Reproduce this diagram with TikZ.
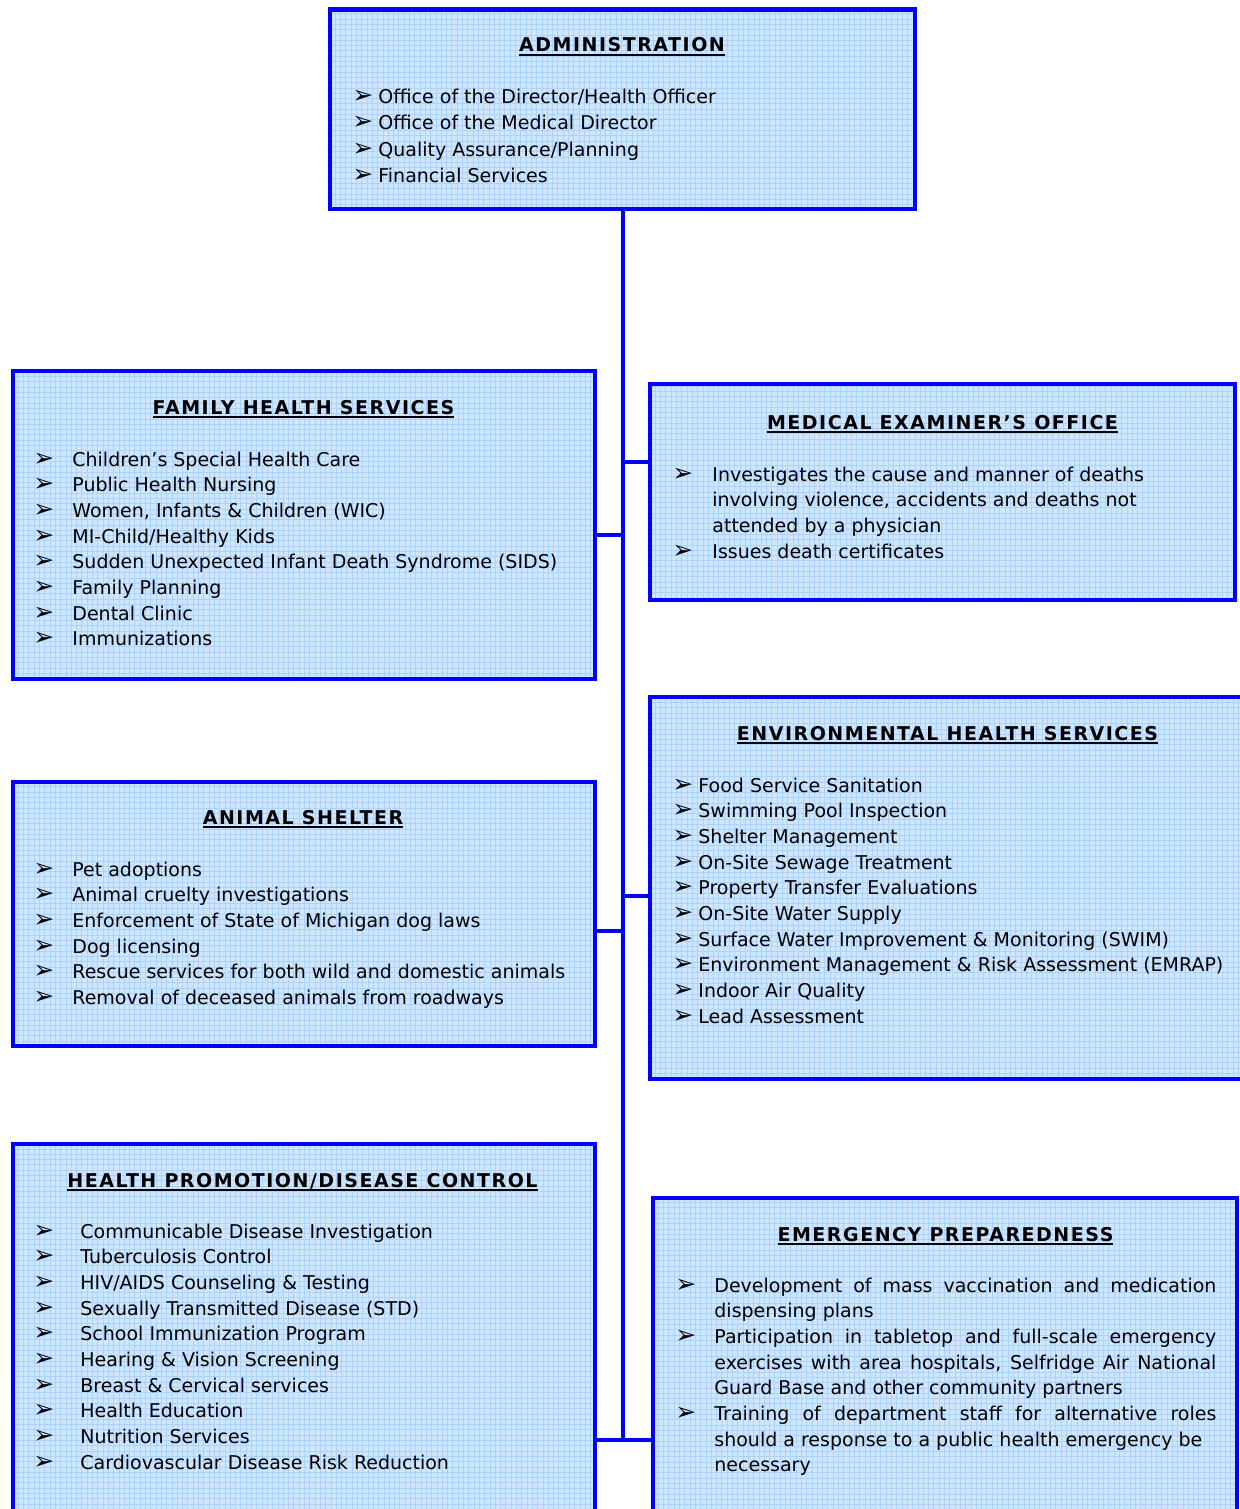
\documentclass[tikz,border=0pt]{standalone}
\usepackage{fontspec}
\setmainfont{DejaVu Sans}
\usetikzlibrary{fit}
\definecolor{boxblue}{RGB}{0,0,255}
\definecolor{gridfill}{RGB}{206,230,255}
\definecolor{gridcol}{RGB}{172,210,255}
\newcommand\itemfont{\fontsize{9.5}{12}\selectfont}
\newcommand\bulfont{\fontsize{12.5}{12}\selectfont}
\newcommand\headfont{\fontsize{9.5}{12}\selectfont\bfseries\addfontfeatures{LetterSpace=8}}
\newcommand\ulhead[1]{\setbox0=\hbox{#1}\rlap{\rule[-2.2pt]{\wd0}{1pt}}\box0}
\newcommand\deptframe[5]{%
  \coordinate (#1-a) at (#2,#3);
  \coordinate (#1-b) at (#4,#5);
  \node[deptbox, fit=(#1-a)(#1-b)] (#1) {};
}
\begin{document}
\begin{tikzpicture}[x=0.5pt,y=-0.5pt,
  deptbox/.style={draw=boxblue, line width=2.4pt, fill=gridfill, inner sep=0pt,
    path picture={\draw[color=gridcol, line width=0.45pt, step=2.65pt]
      (path picture bounding box.south west) grid (path picture bounding box.north east);}},
  conn/.style={draw=boxblue, line width=2.3pt},
  head/.style={anchor=base, inner sep=0pt, font=\headfont},
  item/.style={anchor=base west, inner sep=0pt, font=\itemfont},
  bul/.style={anchor=base west, inner sep=0pt, font=\bulfont}]
\useasboundingbox (0,0) rectangle (1240,1509);
\clip (0,0) rectangle (1240,1509);

% ---------- boxes ----------
\deptframe{admin}{330}{9.5}{915}{209}
\deptframe{family}{13}{371}{595}{679}
\deptframe{medical}{650}{384}{1235}{600}
\deptframe{env}{650}{697}{1252}{1079}
\deptframe{animal}{13}{782}{595}{1046}
\deptframe{hp}{13}{1144}{595}{1525}
\deptframe{emerg}{653}{1198}{1237}{1525}

% ---------- connectors ----------
\coordinate (jMed) at (623,462);
\coordinate (jFam) at (623,535);
\coordinate (jEnv) at (623,896);
\coordinate (jAni) at (623,931);
\coordinate (jEnd) at (623,1440);
\draw[conn] (admin.south -| jEnd) -- (jEnd);
\draw[conn] (jMed) -- (jMed -| medical.west);
\draw[conn] (jFam) -- (jFam -| family.east);
\draw[conn] (jEnv) -- (jEnv -| env.west);
\draw[conn] (jAni) -- (jAni -| animal.east);
\draw[conn] (jEnd -| hp.east) -- (jEnd -| emerg.west);

% ---------- ADMINISTRATION ----------
\node[head] (adminT) at (622,52) {\ulhead{ADMINISTRATION}};
\foreach \t [count=\i] in {Office of the Director/Health Officer, Office of the Medical Director, Quality Assurance/Planning, Financial Services}
{
  \node[bul] (adminB\i) at (352,{104+26*(\i-1)}) {➢};
  \node[item] (adminI\i) at (378,{104+26*(\i-1)}) {\t};
}

% ---------- FAMILY HEALTH ----------
\node[head] (familyT) at (303.5,414) {\ulhead{FAMILY HEALTH SERVICES}};
\foreach \t [count=\i] in {Children’s Special Health Care, Public Health Nursing, {Women, Infants \& Children (WIC)}, MI-Child/Healthy Kids, Sudden Unexpected Infant Death Syndrome (SIDS), Family Planning, Dental Clinic, Immunizations}
{
  \node[bul] (familyB\i) at (33,{466+25.7*(\i-1)}) {➢};
  \node[item] (familyI\i) at (72,{466+25.7*(\i-1)}) {\t};
}

% ---------- MEDICAL EXAMINER ----------
\node[head] (medicalT) at (942.5,429) {\ulhead{MEDICAL EXAMINER’S OFFICE}};
\node[bul] (medicalB1) at (672,481) {➢};
\node[item] (medicalI1) at (712,481) {Investigates the cause and manner of deaths};
\node[item] (medicalI2) at (712,506.7) {involving violence, accidents and deaths not};
\node[item] (medicalI3) at (712,532.4) {attended by a physician};
\node[bul] (medicalB2) at (672,558.1) {➢};
\node[item] (medicalI4) at (712,558.1) {Issues death certificates};

% ---------- ENVIRONMENTAL ----------
\node[head] (envT) at (947.5,740) {\ulhead{ENVIRONMENTAL HEALTH SERVICES}};
\foreach \t [count=\i] in {Food Service Sanitation, Swimming Pool Inspection, Shelter Management, On-Site Sewage Treatment, Property Transfer Evaluations, On-Site Water Supply, Surface Water Improvement \& Monitoring (SWIM), Environment Management \& Risk Assessment (EMRAP), Indoor Air Quality, Lead Assessment}
{
  \node[bul] (envB\i) at (672,{792+25.7*(\i-1)}) {➢};
  \node[item] (envI\i) at (698,{792+25.7*(\i-1)}) {\t};
}

% ---------- ANIMAL SHELTER ----------
\node[head] (animalT) at (303,824) {\ulhead{ANIMAL SHELTER}};
\foreach \t [count=\i] in {Pet adoptions, Animal cruelty investigations, Enforcement of State of Michigan dog laws, Dog licensing, Rescue services for both wild and domestic animals, Removal of deceased animals from roadways}
{
  \node[bul] (animalB\i) at (33,{876+25.7*(\i-1)}) {➢};
  \node[item] (animalI\i) at (72,{876+25.7*(\i-1)}) {\t};
}

% ---------- HEALTH PROMOTION ----------
\node[head] (hpT) at (302.5,1187) {\ulhead{HEALTH PROMOTION/DISEASE CONTROL}};
\foreach \t [count=\i] in {Communicable Disease Investigation, Tuberculosis Control, HIV/AIDS Counseling \& Testing, Sexually Transmitted Disease (STD), School Immunization Program, Hearing \& Vision Screening, Breast \& Cervical services, Health Education, Nutrition Services, Cardiovascular Disease Risk Reduction}
{
  \node[bul] (hpB\i) at (33,{1238+25.7*(\i-1)}) {➢};
  \node[item] (hpI\i) at (80,{1238+25.7*(\i-1)}) {\t};
}

% ---------- EMERGENCY ----------
\node[head] (emergT) at (945.5,1241) {\ulhead{EMERGENCY PREPAREDNESS}};
\node[bul] (emergB1) at (675,1292) {➢};
\node[item] (emergI1) at (714,1292) {\makebox[251pt][s]{Development of mass vaccination and medication}};
\node[item] (emergI2) at (714,1317.7) {dispensing plans};
\node[bul] (emergB2) at (675,1343.4) {➢};
\node[item] (emergI3) at (714,1343.4) {\makebox[251pt][s]{Participation in tabletop and full-scale emergency}};
\node[item] (emergI4) at (714,1369.1) {\makebox[251pt][s]{exercises with area hospitals, Selfridge Air National}};
\node[item] (emergI5) at (714,1394.8) {Guard Base and other community partners};
\node[bul] (emergB3) at (675,1420.5) {➢};
\node[item] (emergI6) at (714,1420.5) {\makebox[251pt][s]{Training of department staff for alternative roles}};
\node[item] (emergI7) at (714,1446.2) {should a response to a public health emergency be};
\node[item] (emergI8) at (714,1471.9) {necessary};
\end{tikzpicture}
\end{document}
